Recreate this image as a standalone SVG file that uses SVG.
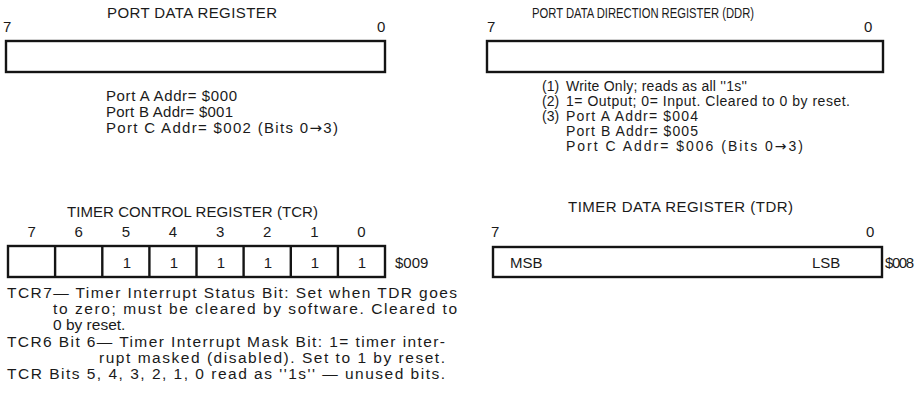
<svg xmlns="http://www.w3.org/2000/svg" width="916" height="406" viewBox="0 0 916 406">
<style>
text { font-family: "Liberation Sans", Arial, Helvetica, sans-serif; font-size: 15px; fill: #1a1a1a; }
.note { font-size: 14px; }
.tcrn { font-size: 15.5px; }
.arr { font-family: "DejaVu Sans", sans-serif; }
.box { fill: #ffffff; stroke: #141414; stroke-width: 2.4; }
.div { stroke: #141414; stroke-width: 2.4; }
.mid { text-anchor: middle; }
</style>
<rect x="0" y="0" width="916" height="406" fill="#ffffff"/>

<g id="port-data-register">
  <text x="107" y="18" textLength="170">PORT DATA REGISTER</text>
  <text x="3" y="32">7</text>
  <text x="377" y="32">0</text>
  <rect class="box" x="6" y="41" width="379" height="31"/>
  <text x="106" y="101" textLength="131">Port A Addr= $000</text>
  <text x="106" y="117" textLength="127">Port B Addr= $001</text>
  <text x="106" y="133" textLength="232">Port C Addr= $002 (Bits 0<tspan class="arr">→</tspan>3)</text>
</g>

<g id="port-ddr">
  <text x="532" y="18" textLength="222" lengthAdjust="spacingAndGlyphs">PORT DATA DIRECTION REGISTER (DDR)</text>
  <text x="487" y="32">7</text>
  <text x="864" y="32">0</text>
  <rect class="box" x="487" y="41" width="396" height="31"/>
  <text class="note" x="542" y="91">(1)</text>
  <text class="note" x="566" y="91" textLength="181">Write Only; reads as all ''1s''</text>
  <text class="note" x="542" y="106">(2)</text>
  <text class="note" x="566" y="106" textLength="284">1= Output; 0= Input. Cleared to 0 by reset.</text>
  <text class="note" x="542" y="121">(3)</text>
  <text class="note" x="566" y="121" textLength="132">Port A Addr= $004</text>
  <text class="note" x="566" y="136" textLength="132">Port B Addr= $005</text>
  <text class="note" x="566" y="151" textLength="237">Port C Addr= $006 (Bits 0<tspan class="arr">→</tspan>3)</text>
</g>

<g id="timer-control-register">
  <text x="67" y="217" textLength="251">TIMER CONTROL REGISTER (TCR)</text>
  <text class="mid" x="31.6" y="237">7</text>
  <text class="mid" x="78.7" y="237">6</text>
  <text class="mid" x="125.8" y="237">5</text>
  <text class="mid" x="173" y="237">4</text>
  <text class="mid" x="220.1" y="237">3</text>
  <text class="mid" x="267.2" y="237">2</text>
  <text class="mid" x="314.4" y="237">1</text>
  <text class="mid" x="361.5" y="237">0</text>
  <rect class="box" x="8" y="246" width="377" height="31"/>
  <line class="div" x1="55.1" y1="246" x2="55.1" y2="277"/>
  <line class="div" x1="102.3" y1="246" x2="102.3" y2="277"/>
  <line class="div" x1="149.4" y1="246" x2="149.4" y2="277"/>
  <line class="div" x1="196.5" y1="246" x2="196.5" y2="277"/>
  <line class="div" x1="243.6" y1="246" x2="243.6" y2="277"/>
  <line class="div" x1="290.8" y1="246" x2="290.8" y2="277"/>
  <line class="div" x1="337.9" y1="246" x2="337.9" y2="277"/>
  <text class="mid" x="127" y="268">1</text>
  <text class="mid" x="174" y="268">1</text>
  <text class="mid" x="221" y="268">1</text>
  <text class="mid" x="268" y="268">1</text>
  <text class="mid" x="315" y="268">1</text>
  <text class="mid" x="362" y="268">1</text>
  <text x="395" y="268" font-size="14">$009</text>
  <text class="tcrn" x="7" y="298" textLength="450">TCR7— Timer Interrupt Status Bit: Set when TDR goes</text>
  <text class="tcrn" x="53" y="314" textLength="404">to zero; must be cleared by software. Cleared to</text>
  <text class="tcrn" x="53" y="330">0 by reset.</text>
  <text class="tcrn" x="7" y="347" textLength="438">TCR6 Bit 6— Timer Interrupt Mask Bit: 1= timer inter-</text>
  <text class="tcrn" x="99" y="363" textLength="346">rupt masked (disabled). Set to 1 by reset.</text>
  <text class="tcrn" x="7" y="379" textLength="438">TCR Bits 5, 4, 3, 2, 1, 0 read as ''1s'' — unused bits.</text>
</g>

<g id="timer-data-register">
  <text x="568" y="212" textLength="225">TIMER DATA REGISTER (TDR)</text>
  <text x="491" y="237">7</text>
  <text x="866" y="237">0</text>
  <rect class="box" x="493" y="247" width="389" height="30"/>
  <text x="510" y="268">MSB</text>
  <text x="812" y="268">LSB</text>
  <text x="885" y="268" font-size="14" textLength="29">$008</text>
</g>

<g id="connectors"></g>
</svg>
